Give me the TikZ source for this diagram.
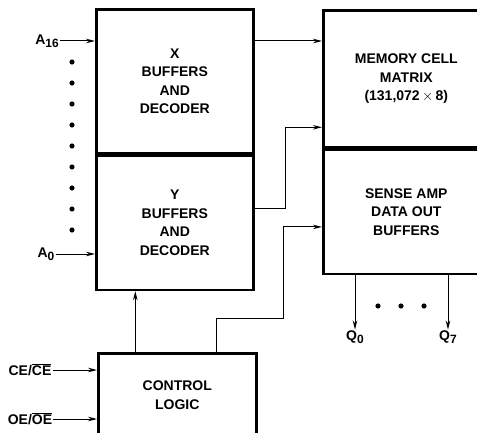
\documentclass[tikz,border=0pt]{standalone}
\usepackage{fontspec}
\setmainfont{Liberation Sans}
\usetikzlibrary{arrows.meta, positioning}

\begin{document}
\begin{tikzpicture}[x=1pt, y=-1pt,
  blk/.style={rectangle, draw=black, line width=2.6pt, inner sep=0pt, align=center,
              font=\fontsize{14}{18.6}\selectfont\bfseries},
  lbl/.style={inner sep=1pt, font=\fontsize{14}{17}\selectfont\bfseries},
  sub/.style={},
  sig/.style={line width=1pt, -{Stealth[length=9pt, width=4.5pt]}},
  dot/.style={fill=black}
]
  \useasboundingbox (0,0) rectangle (477,433);

  \node[blk, anchor=north west, minimum width=157pt, minimum height=144pt] (xdec) at (95,8) {X\\BUFFERS\\AND\\DECODER};
  \node[blk, below=0pt of xdec, minimum width=157pt, minimum height=134pt] (ydec) {Y\\BUFFERS\\AND\\DECODER};
  \node[blk, anchor=north west, minimum width=166pt, minimum height=137pt] (mem) at (322,9) {MEMORY CELL\\MATRIX\\(131,072\,$\times$\,8)};
  \node[blk, below=0pt of mem, minimum width=166pt, minimum height=124pt] (sense) {SENSE AMP\\DATA OUT\\BUFFERS};
  \node[blk, anchor=north west, minimum width=158pt, minimum height=84pt] (ctrl) at (97,352) {CONTROL\\LOGIC};

  \node[lbl] (a16) at (47,41) {A\raisebox{-2.5pt}{\fontsize{12}{12}\selectfont 16}};
  \node[lbl] (a0) at (46,254) {A\raisebox{-2.5pt}{\fontsize{12}{12}\selectfont 0}};
  \node[lbl] (ce) at (30,370) {CE/$\overline{\hbox{CE}}$};
  \node[lbl] (oe) at (30,419) {OE/$\overline{\hbox{OE}}$};
  \node[lbl] (q0) at (355,337) {Q\raisebox{-2.5pt}{\fontsize{12}{12}\selectfont 0}};
  \node[lbl] (q7) at (448,337) {Q\raisebox{-2.5pt}{\fontsize{12}{12}\selectfont 7}};

  \foreach \y in {62,83,...,230} \fill[dot] (72,\y) circle (2.6pt);
  \foreach \x in {378,401,424} \fill[dot] (\x,306) circle (2.6pt);

  \draw[sig] (a16.east) -- (a16 -| xdec.west);
  \draw[sig] (a0.east) -- (a0 -| ydec.west);
  \draw[sig] (ce.east) -- (ce -| ctrl.west);
  \draw[sig] (oe.east) -- (oe -| ctrl.west);

  \draw[sig] (xdec.east |- a16) -- (mem.west |- a16);
  \draw[sig] ([yshift=14pt]ydec.east) -- ++(31,0) |- ([yshift=-48.5pt]mem.west);
  \draw[sig] ([xshift=-42pt]ctrl.north) -- ([xshift=-42pt]ctrl.north |- ydec.south);
  \draw[sig] ([xshift=39pt]ctrl.north) |- (283,318) |- ([yshift=-15pt]sense.west);

  \draw[sig] (q0 |- sense.south) -- (q0.north);
  \draw[sig] (q7 |- sense.south) -- (q7.north);
\end{tikzpicture}
\end{document}
